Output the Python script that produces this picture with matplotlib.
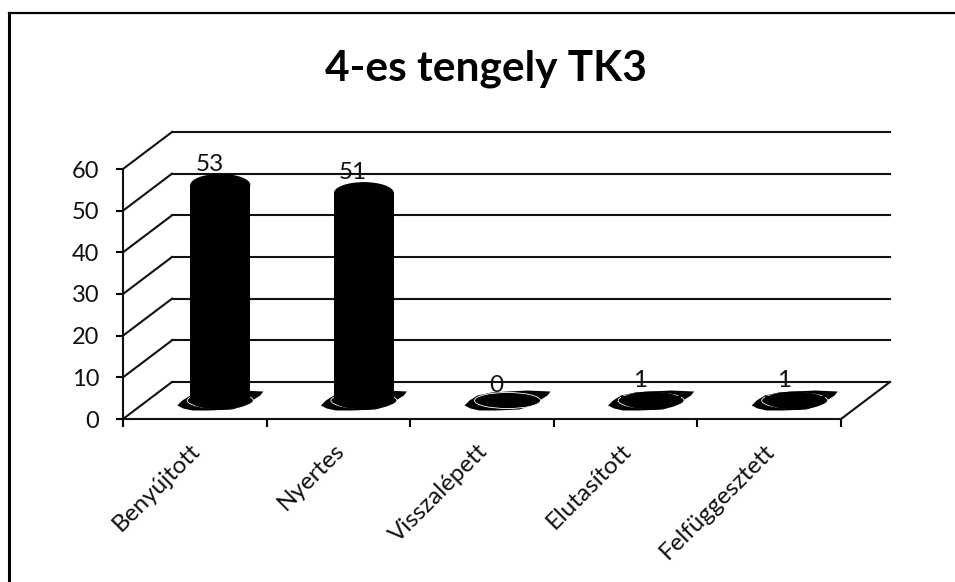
import matplotlib
matplotlib.use("Agg")
import matplotlib.pyplot as plt
from matplotlib.lines import Line2D
from matplotlib.patches import Ellipse, Polygon, Rectangle
from matplotlib.transforms import Affine2D, offset_copy

categories = ["Benyújtott", "Nyertes", "Visszalépett", "Elutasított", "Felfüggesztett"]
values = [53, 51, 0, 1, 1]
y_ticks = [0, 10, 20, 30, 40, 50, 60]

plt.rcParams["font.family"] = ["Lato", "DejaVu Sans"]

W, H = 955, 582
fig = plt.figure(figsize=(W / 100, H / 100), dpi=100, facecolor="white")

# front plane of the fake 3d box, pixels from the reference
ax = fig.add_axes([123 / W, 1 - 419 / H, 718 / W, 250 / H])
ax.set_xlim(0, len(categories))
ax.set_ylim(0, 60)
ax.patch.set_visible(False)

DEPTH_X, DEPTH_Y = 49, 37
CYL_SCALE = 0.976  # cylinders sit a bit lower than the wall grid
back = offset_copy(ax.transData, fig=fig, x=DEPTH_X, y=DEPTH_Y, units="dots")
mid = offset_copy(ax.transData, fig=fig, x=DEPTH_X / 2 + 1, y=DEPTH_Y / 2, units="dots")
px_x = len(categories) / 718
px_y = 60 / 250

# outline of the smeared shadow at each foot, pixels around the centre
shadow_shape = [(-43, -5), (-38, 0), (-30, 5), (-16, 8), (0, 9), (20, 10), (43, 9), (40, 5),
                (32, 0), (24, -5), (12, -9), (-12, -10), (-28, -10), (-37, -8)]


def diagonal(x, y):
    p0 = ax.transData.transform((x, y))
    p1 = back.transform((x, y))
    fig.add_artist(Line2D([p0[0], p1[0]], [p0[1], p1[1]], transform=None,
                          color="#111111", lw=1.5, zorder=1))


# grid on the back wall and diagonals on the side wall
for t in y_ticks:
    ax.plot([0, len(categories)], [t, t], transform=back, color="#111111", lw=1.5, clip_on=False, zorder=1)
    diagonal(0, t)
diagonal(len(categories), 0)

for i, v in enumerate(values):
    x = i + 0.5
    cx, cy = mid.transform((x, 0))
    ax.add_patch(Polygon(shadow_shape, closed=True, transform=Affine2D().translate(cx, cy),
                         facecolor="black", edgecolor="none", clip_on=False, zorder=2))
    ax.add_patch(Ellipse((x, 0), 66 * px_x, 16 * px_y, transform=mid, facecolor="black",
                         edgecolor="white", lw=0.6, clip_on=False, zorder=3))
    top = v * CYL_SCALE
    if v > 0:
        ax.add_patch(Rectangle((x - 30 * px_x, 0), 60 * px_x, top, transform=mid, facecolor="black",
                               edgecolor="none", clip_on=False, zorder=4))
        ax.add_patch(Ellipse((x, 0), 60 * px_x, 18 * px_y, transform=mid, facecolor="black",
                             edgecolor="none", clip_on=False, zorder=4))
        if v > 5:
            ax.add_patch(Ellipse((x, top), 60 * px_x, 22 * px_y, transform=mid, facecolor="black",
                                 edgecolor="none", clip_on=False, zorder=4))
    ax.annotate(str(v), xy=(x, v), xycoords=mid, xytext=(-11, 9), textcoords="offset pixels",
                ha="center", va="baseline", fontsize=17.5, color="#111111", zorder=5, annotation_clip=False)

ax.set_yticks(y_ticks)
ax.set_xticks(range(len(categories) + 1))
ax.set_xticklabels([])
ax.set_xticks([i + 0.5 for i in range(len(categories))], categories, minor=True)
ax.tick_params(axis="y", length=5, width=1.5, labelsize=17, pad=12, labelcolor="#111111")
ax.tick_params(axis="x", which="major", length=6, width=1.5)
ax.tick_params(axis="x", which="minor", length=0, labelsize=17.5, pad=15, labelcolor="#111111")
for lab in ax.get_xticklabels(minor=True):
    lab.set_rotation(45)
    lab.set_ha("right")
    lab.set_rotation_mode("anchor")
    lab.set_transform(lab.get_transform() + Affine2D().translate(-5, 0))

for s in ["top", "right"]:
    ax.spines[s].set_visible(False)
for s in ["left", "bottom"]:
    ax.spines[s].set_linewidth(1.5)
    ax.spines[s].set_color("#111111")

fig.text(486 / W, 1 - 69 / H, "4-es tengely TK3", ha="center", va="center",
         fontsize=30.5, fontweight="bold", color="black")

# scanned frame, only top and left edges are on the page
fig.add_artist(Line2D([8.5, W], [H - 13, H - 13], transform=None, color="black", lw=1.6))
fig.add_artist(Line2D([9, 9], [H - 13, 0], transform=None, color="black", lw=2.2))

fig.savefig("out.png", dpi=100)
